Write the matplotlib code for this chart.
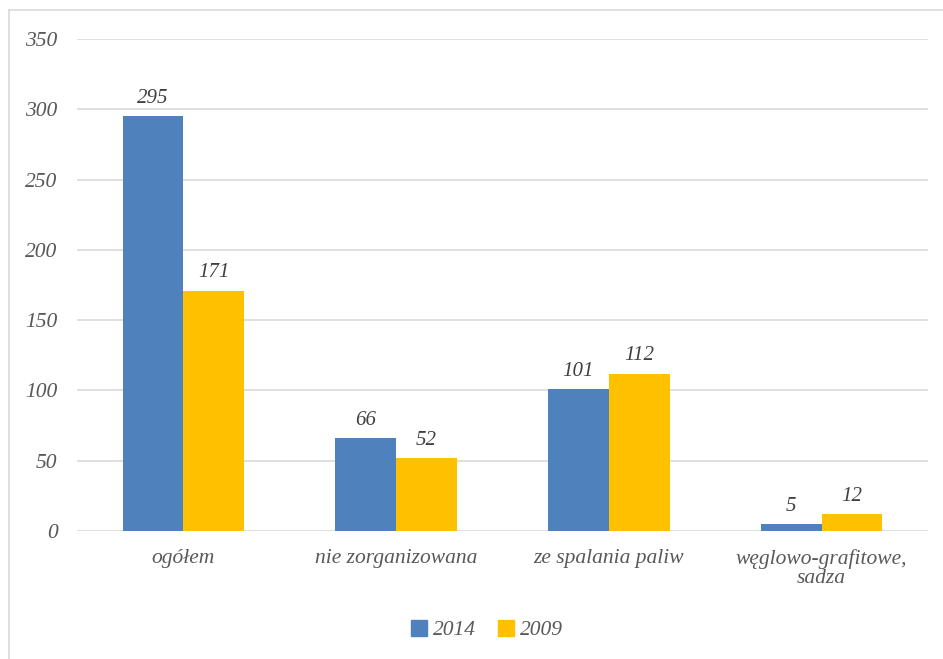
import numpy as np
import matplotlib.pyplot as plt
from matplotlib.lines import Line2D

# ---------------------------------------------------------------------------
# Data
# ---------------------------------------------------------------------------
categories = ["ogółem", "nie zorganizowana", "ze spalania paliw",
              "węglowo-grafitowe,\nsadza"]
series_names = ["2014", "2009"]
values_2014 = [295, 66, 101, 5]
values_2009 = [171, 52, 112, 12]
y_ticks = [0, 50, 100, 150, 200, 250, 300, 350]

colors = ["#4F81BD", "#FFC000"]

plt.rcParams.update({
    'font.family': ['Liberation Serif', 'DejaVu Serif'],
    'font.style': 'italic',
    'font.size': 14,
})


def main():
    fig = plt.figure(figsize=(9.43, 6.59), dpi=100)
    ax = fig.add_axes([77 / 943, 1 - 531 / 659, 851 / 943, 492 / 659])

    x = np.arange(len(categories))
    width = 0.286

    bars_a = ax.bar(x - width / 2, values_2014, width, color=colors[0],
                    label=series_names[0], zorder=3)
    bars_b = ax.bar(x + width / 2, values_2009, width, color=colors[1],
                    label=series_names[1], zorder=3)

    for bars in (bars_a, bars_b):
        ax.bar_label(bars, padding=6, color='#404040', fontsize=15,
                     fontstyle='italic')

    ax.set_xlim(-0.5, len(categories) - 0.5)
    ax.set_ylim(0, 350)
    ax.set_yticks(y_ticks)
    ax.set_xticks(x)
    ax.set_xticklabels(categories, color='#595959', fontsize=15.5,
                       fontstyle='italic', linespacing=1.0)
    ax.tick_params(axis='y', colors='#595959', labelsize=15.5, length=0, pad=14)
    ax.tick_params(axis='x', length=0, pad=13)
    for lbl in ax.get_yticklabels():
        lbl.set_horizontalalignment('right')
        lbl.set_fontstyle('italic')

    ax.grid(axis='y', color='#D9D9D9', linewidth=1.2, zorder=0)
    for s in ax.spines.values():
        s.set_visible(False)

    # Legend at bottom
    handles = [plt.Rectangle((0, 0), 1, 1, color=c) for c in colors]
    fig.legend(handles, series_names, loc='center', ncol=2,
               bbox_to_anchor=(487 / 943, 1 - 630 / 659), frameon=False,
               fontsize=15.5, handlelength=0.75, handleheight=0.75,
               handletextpad=0.3, columnspacing=1.0, labelcolor='#595959')

    # Chart-area border (top and left edges visible in the crop)
    fig.add_artist(Line2D([9 / 943, 1], [1 - 10 / 659, 1 - 10 / 659],
                          color='#D9D9D9', linewidth=1.2,
                          transform=fig.transFigure))
    fig.add_artist(Line2D([9 / 943, 9 / 943], [0, 1 - 10 / 659],
                          color='#D9D9D9', linewidth=1.2,
                          transform=fig.transFigure))

    fig.savefig("out.png", dpi=100, facecolor='white')


if __name__ == "__main__":
    main()
